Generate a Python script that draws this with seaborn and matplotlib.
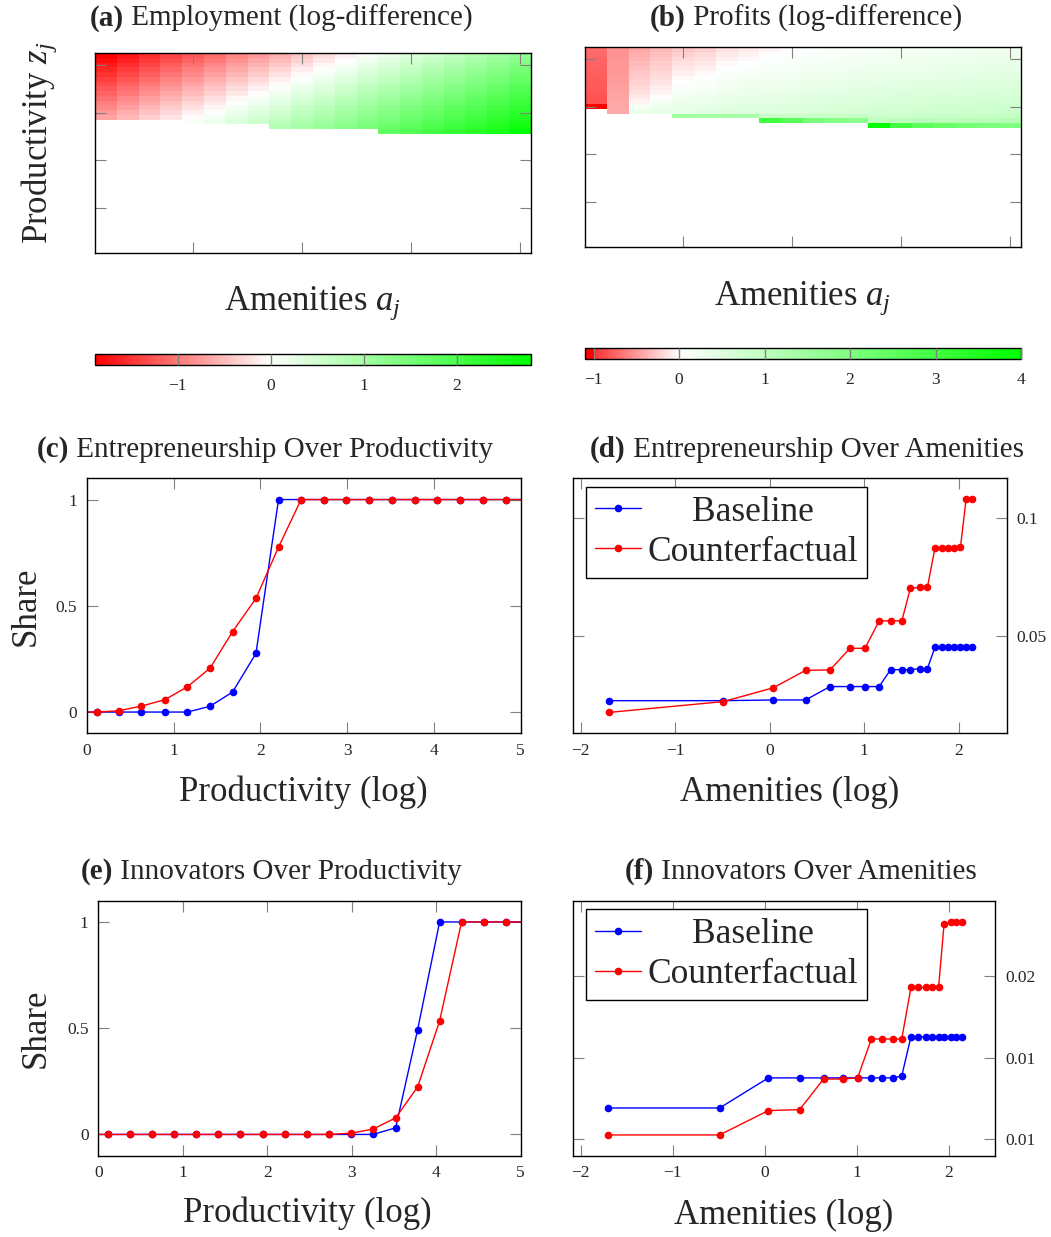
import numpy as np
import pandas as pd
import matplotlib
matplotlib.use("Agg")
import matplotlib.pyplot as plt
import seaborn as sns
from matplotlib.colors import LinearSegmentedColormap
from matplotlib.lines import Line2D

sns.set_theme(style="white")
plt.rcParams["font.family"] = ["Liberation Serif", "DejaVu Serif"]
plt.rcParams["mathtext.fontset"] = "custom"
plt.rcParams["mathtext.rm"] = "Liberation Serif"
plt.rcParams["mathtext.it"] = "Liberation Serif:italic"
plt.rcParams["axes.unicode_minus"] = True

# ---------------------------------------------------------------- data
n_prod_levels = 42  # productivity levels (rows); amenity levels are the columns

# log-difference in employment, one list per amenity level, top productivity first
employment_cols = [
    [-1.89, -1.80, -1.70, -1.61, -1.52, -1.42, -1.33, -1.24, -1.15, -1.05, -0.96, -0.87, -0.77, -0.68],
    [-1.73, -1.64, -1.54, -1.45, -1.36, -1.26, -1.17, -1.08, -0.99, -0.89, -0.80, -0.71, -0.61, -0.52],
    [-1.56, -1.47, -1.37, -1.28, -1.19, -1.09, -1.00, -0.91, -0.82, -0.72, -0.63, -0.54, -0.44, -0.35],
    [-1.40, -1.31, -1.21, -1.12, -1.03, -0.93, -0.84, -0.75, -0.66, -0.56, -0.47, -0.38, -0.28, -0.19],
    [-1.24, -1.15, -1.05, -0.96, -0.87, -0.77, -0.68, -0.59, -0.50, -0.40, -0.31, -0.22, -0.12, -0.03, 0.06],
    [-1.08, -0.99, -0.89, -0.80, -0.71, -0.61, -0.52, -0.43, -0.34, -0.24, -0.15, -0.06, 0.04, 0.13, 0.22],
    [-0.91, -0.82, -0.72, -0.63, -0.54, -0.44, -0.35, -0.26, -0.17, -0.07, 0.02, 0.11, 0.21, 0.30, 0.39],
    [-0.75, -0.66, -0.56, -0.47, -0.38, -0.28, -0.19, -0.10, -0.01, 0.09, 0.18, 0.27, 0.37, 0.46, 0.55],
    [-0.59, -0.50, -0.40, -0.31, -0.22, -0.12, -0.03, 0.06, 0.15, 0.25, 0.34, 0.43, 0.53, 0.62, 0.71, 0.81],
    [-0.42, -0.33, -0.23, -0.14, -0.05, 0.05, 0.14, 0.23, 0.32, 0.42, 0.51, 0.60, 0.70, 0.79, 0.88, 0.98],
    [-0.26, -0.17, -0.07, 0.02, 0.11, 0.21, 0.30, 0.39, 0.48, 0.58, 0.67, 0.76, 0.86, 0.95, 1.04, 1.14],
    [-0.10, -0.01, 0.09, 0.18, 0.27, 0.37, 0.46, 0.55, 0.64, 0.74, 0.83, 0.92, 1.02, 1.11, 1.20, 1.30],
    [0.07, 0.16, 0.26, 0.35, 0.44, 0.54, 0.63, 0.72, 0.81, 0.91, 1.00, 1.09, 1.19, 1.28, 1.37, 1.47],
    [0.23, 0.32, 0.42, 0.51, 0.60, 0.70, 0.79, 0.88, 0.97, 1.07, 1.16, 1.25, 1.35, 1.44, 1.53, 1.63, 1.72],
    [0.39, 0.48, 0.58, 0.67, 0.76, 0.86, 0.95, 1.04, 1.13, 1.23, 1.32, 1.41, 1.51, 1.60, 1.69, 1.79, 1.88],
    [0.56, 0.65, 0.75, 0.84, 0.93, 1.03, 1.12, 1.21, 1.30, 1.40, 1.49, 1.58, 1.68, 1.77, 1.86, 1.96, 2.05],
    [0.72, 0.81, 0.91, 1.00, 1.09, 1.19, 1.28, 1.37, 1.46, 1.56, 1.65, 1.74, 1.84, 1.93, 2.02, 2.12, 2.21],
    [0.88, 0.97, 1.07, 1.16, 1.25, 1.35, 1.44, 1.53, 1.62, 1.72, 1.81, 1.90, 2.00, 2.09, 2.18, 2.28, 2.37],
    [1.04, 1.13, 1.23, 1.32, 1.41, 1.51, 1.60, 1.69, 1.78, 1.88, 1.97, 2.06, 2.16, 2.25, 2.34, 2.44, 2.53],
    [1.21, 1.30, 1.40, 1.49, 1.58, 1.68, 1.77, 1.86, 1.95, 2.05, 2.14, 2.23, 2.33, 2.42, 2.51, 2.61, 2.80],
]

# log-difference in profits, same layout
profit_cols = [
    [-0.72, -0.73, -0.74, -0.75, -0.76, -0.77, -0.78, -0.79, -0.80, -0.82, -0.83, -0.85, -1.10],
    [-0.53, -0.52, -0.51, -0.50, -0.50, -0.49, -0.48, -0.47, -0.46, -0.45, -0.44, -0.43, -0.42, -0.41],
    [-0.42, -0.39, -0.36, -0.33, -0.30, -0.27, -0.25, -0.22, -0.19, -0.15, -0.11, -0.05, 0.15, 0.35],
    [-0.34, -0.31, -0.28, -0.25, -0.22, -0.19, -0.16, -0.13, -0.09, -0.05, 0.02, 0.15, 0.28, 0.40],
    [-0.27, -0.23, -0.19, -0.15, -0.11, -0.07, -0.03, 0.02, 0.08, 0.14, 0.20, 0.26, 0.33, 0.40, 1.50],
    [-0.23, -0.19, -0.15, -0.11, -0.07, -0.03, 0.02, 0.07, 0.13, 0.19, 0.25, 0.31, 0.37, 0.44, 1.45],
    [-0.15, -0.11, -0.07, -0.03, 0.01, 0.06, 0.11, 0.16, 0.21, 0.26, 0.31, 0.36, 0.42, 0.48, 1.40],
    [-0.10, -0.06, -0.02, 0.02, 0.07, 0.12, 0.17, 0.22, 0.27, 0.32, 0.37, 0.42, 0.48, 0.54, 1.35],
    [-0.05, -0.01, 0.03, 0.07, 0.11, 0.15, 0.19, 0.23, 0.28, 0.33, 0.38, 0.43, 0.48, 0.54, 0.85, 3.00],
    [-0.01, 0.03, 0.07, 0.11, 0.15, 0.19, 0.23, 0.27, 0.32, 0.37, 0.42, 0.47, 0.52, 0.58, 0.85, 2.60],
    [0.03, 0.07, 0.11, 0.15, 0.19, 0.23, 0.27, 0.31, 0.36, 0.41, 0.46, 0.51, 0.56, 0.62, 0.85, 2.10],
    [0.06, 0.10, 0.14, 0.18, 0.22, 0.26, 0.30, 0.34, 0.39, 0.44, 0.49, 0.54, 0.59, 0.65, 0.88, 1.90],
    [0.09, 0.13, 0.17, 0.21, 0.25, 0.29, 0.33, 0.37, 0.42, 0.47, 0.52, 0.57, 0.62, 0.68, 0.90, 1.80],
    [0.12, 0.16, 0.20, 0.24, 0.28, 0.32, 0.36, 0.40, 0.45, 0.50, 0.55, 0.60, 0.65, 0.71, 0.80, 1.00, 4.00],
    [0.14, 0.18, 0.22, 0.26, 0.30, 0.34, 0.38, 0.42, 0.47, 0.52, 0.57, 0.62, 0.67, 0.73, 0.82, 1.02, 3.00],
    [0.16, 0.20, 0.24, 0.28, 0.32, 0.36, 0.40, 0.44, 0.49, 0.54, 0.59, 0.64, 0.69, 0.75, 0.84, 1.05, 2.60],
    [0.18, 0.22, 0.26, 0.30, 0.34, 0.38, 0.42, 0.46, 0.51, 0.56, 0.61, 0.66, 0.71, 0.77, 0.86, 1.08, 2.40],
    [0.20, 0.24, 0.28, 0.32, 0.36, 0.40, 0.44, 0.48, 0.53, 0.58, 0.63, 0.68, 0.73, 0.79, 0.88, 1.10, 2.20],
    [0.22, 0.26, 0.30, 0.34, 0.38, 0.42, 0.46, 0.50, 0.55, 0.60, 0.65, 0.70, 0.75, 0.81, 0.90, 1.12, 2.10],
    [0.24, 0.28, 0.32, 0.36, 0.40, 0.44, 0.48, 0.52, 0.57, 0.62, 0.67, 0.72, 0.77, 0.83, 0.92, 1.15, 2.00],
]

employment_range = (-1.89, 2.80)
profit_range = (-1.10, 4.00)
employment_cticks = [-1, 0, 1, 2]
profit_cticks = [-1, 0, 1, 2, 3, 4]

# shares over the log-productivity grid
prod_grid = [-0.15, 0.12, 0.37, 0.63, 0.90, 1.16, 1.42, 1.68, 1.95, 2.21, 2.47,
             2.73, 2.99, 3.25, 3.52, 3.78, 4.04, 4.30, 4.56, 4.83, 5.09]
entre_prod_base = [0, 0, 0, 0, 0, 0, 0.027, 0.094, 0.276, 1, 1,
                   1, 1, 1, 1, 1, 1, 1, 1, 1, 1]
entre_prod_cf = [0, 0, 0.006, 0.028, 0.058, 0.119, 0.206, 0.378, 0.535, 0.776, 1,
                 1, 1, 1, 1, 1, 1, 1, 1, 1, 1]
innov_prod_base = [0, 0, 0, 0, 0, 0, 0, 0, 0, 0, 0,
                   0, 0, 0, 0.031, 0.493, 1, 1, 1, 1, 1]
innov_prod_cf = [0, 0, 0, 0, 0, 0, 0, 0, 0, 0, 0,
                 0, 0.006, 0.025, 0.078, 0.224, 0.534, 1, 1, 1, 1]

# shares over the log-amenity grid
amen_grid = [-1.70, -0.49, 0.04, 0.38, 0.64, 0.85, 1.01, 1.16, 1.28, 1.40,
             1.49, 1.59, 1.67, 1.75, 1.82, 1.89, 1.95, 2.02, 2.08, 2.14]
entre_amen_base = [0.0223, 0.0223, 0.0226, 0.0226, 0.0283, 0.0283, 0.0283, 0.0283, 0.0355, 0.0355,
                   0.0355, 0.0359, 0.0359, 0.0450, 0.0450, 0.0450, 0.0450, 0.0450, 0.0450, 0.0450]
entre_amen_cf = [0.0173, 0.0219, 0.0278, 0.0352, 0.0354, 0.0446, 0.0446, 0.0563, 0.0563, 0.0563,
                 0.0702, 0.0705, 0.0705, 0.0872, 0.0872, 0.0872, 0.0875, 0.0876, 0.1080, 0.1080]
innov_amen_base = [0.00692, 0.00692, 0.00876, 0.00876, 0.00876, 0.00876, 0.00876, 0.00876, 0.00876, 0.00876,
                   0.00888, 0.01127, 0.01127, 0.01127, 0.01127, 0.01127, 0.01127, 0.01127, 0.01127, 0.01127]
innov_amen_cf = [0.00527, 0.00527, 0.00676, 0.00682, 0.00869, 0.00869, 0.00876, 0.01114, 0.01114, 0.01114,
                 0.01114, 0.01429, 0.01429, 0.01429, 0.01429, 0.01429, 0.01816, 0.01829, 0.01829, 0.01829]

scenarios = ["Baseline", "Counterfactual"]
palette = {"Baseline": "#0000ff", "Counterfactual": "#ff0000"}

# ---------------------------------------------------------------- figure
W, H = 1051, 1237
fig = plt.figure(figsize=(W / 100, H / 100), dpi=100)


def px_axes(left, top, right, bottom):
    return fig.add_axes([left / W, 1 - bottom / H, (right - left) / W, (bottom - top) / H])


TICK_GREY = "#808080"
TICK_LEN = 8
TITLE_SIZE = 21
LABEL_SIZE = 25
LEGEND_SIZE = 25.5
TICKLABEL_SIZE = 12.5


def frame(ax):
    for s in ax.spines.values():
        s.set_visible(True)
        s.set_color("black")
        s.set_linewidth(1.0)
        s.set_zorder(5)


def panel_title(ax, x_px, y_px, tag, text):
    t = fig.text(x_px / W, 1 - y_px / H, tag, fontsize=TITLE_SIZE, fontweight="bold",
                 ha="left", va="baseline")
    ax.annotate(" " + text, xy=(1, 0), xycoords=t, fontsize=TITLE_SIZE,
                ha="left", va="bottom", annotation_clip=False)


emp_cmap = LinearSegmentedColormap.from_list(
    "emp", [(0.0, "#ff0000"), (1.89 / 4.69, "#ffffff"), (1.0, "#00ff00")], N=1024)
prof_cmap = LinearSegmentedColormap.from_list(
    "prof", [(0.0, "#ff0000"), (0.0195, "#ff0000"), (0.0197, "#ff3030"),
             (1.1 / 5.1, "#ffffff"), (1.0, "#00ff00")], N=2048)


def draw_heatmap(ax, cax, cols, vrange, cmap, cticks):
    mat = np.full((n_prod_levels, len(cols)), np.nan)
    for j, col in enumerate(cols):
        mat[:len(col), j] = col
    sns.heatmap(mat, ax=ax, cmap=cmap, vmin=vrange[0], vmax=vrange[1],
                cbar=True, cbar_ax=cax,
                cbar_kws={"orientation": "horizontal", "ticks": cticks},
                xticklabels=False, yticklabels=False, linewidths=0)
    ax.collections[0].set_zorder(0.5)
    ax.set_axisbelow(False)
    ax.set_xticks([4.5, 9.5, 14.5, 19.5])
    ax.set_xticklabels([])
    ax.set_yticks([2.5, 12.5, 22.5, 32.5])
    ax.set_yticklabels([])
    ax.tick_params(direction="in", length=TICK_LEN, width=0.8, color=TICK_GREY,
                   top=True, right=True, bottom=True, left=True)
    frame(ax)
    cb = ax.collections[0].colorbar
    cb.outline.set_visible(True)
    cb.outline.set_linewidth(1.0)
    cb.outline.set_edgecolor("black")
    cb.solids.set_zorder(0.5)
    cax.set_axisbelow(False)
    cax.tick_params(direction="in", length=8.2, width=1.0, color=TICK_GREY,
                    labelsize=TICKLABEL_SIZE, pad=9, bottom=True)


def draw_lines(ax, x, base, cf, xlim, ylim, xticks, yticks, yticklabels, right_labels):
    df = pd.DataFrame({
        "x": list(x) * 2,
        "share": list(base) + list(cf),
        "scenario": [scenarios[0]] * len(x) + [scenarios[1]] * len(x),
    })
    sns.lineplot(data=df, x="x", y="share", hue="scenario", hue_order=scenarios,
                 palette=palette, marker="o", markersize=5.5, markeredgewidth=0,
                 linewidth=1.0, estimator=None, sort=False, legend=False, ax=ax)
    ax.set_xlim(*xlim)
    ax.set_ylim(*ylim)
    ax.set_xticks(xticks)
    ax.set_yticks(yticks)
    ax.set_yticklabels(yticklabels)
    ax.tick_params(direction="in", length=TICK_LEN, width=0.8, color=TICK_GREY,
                   top=True, right=True, bottom=True, left=True,
                   labelsize=TICKLABEL_SIZE, pad=7,
                   labelleft=not right_labels, labelright=right_labels)
    frame(ax)
    ax.set_xlabel("")
    ax.set_ylabel("")


def add_legend(ax, x0, y1):
    handles = [Line2D([], [], color=palette[s], marker="o", markersize=5.5,
                      markeredgewidth=0, linewidth=1.0) for s in scenarios]
    leg = ax.legend(handles, scenarios, loc="upper left", bbox_to_anchor=(x0, y1),
                    borderaxespad=0, fontsize=LEGEND_SIZE, frameon=True, fancybox=False,
                    edgecolor="black", framealpha=1, handlelength=1.3,
                    handletextpad=0.2, labelspacing=0.2, borderpad=0.25)
    leg.get_frame().set_linewidth(1.0)
    return leg


def set_label(axis, text, x, y, rotation=0, size=LABEL_SIZE):
    lab = axis.set_label_text(text, fontsize=size)
    axis.set_label_coords(x, y)
    lab.set_va("center")
    lab.set_ha("center")
    lab.set_rotation(rotation)


# (a) employment heatmap
ax_a = px_axes(95, 53, 531, 253)
cax_a = px_axes(95, 354, 531, 365)
draw_heatmap(ax_a, cax_a, employment_cols, employment_range, emp_cmap, employment_cticks)
set_label(ax_a.xaxis, "Amenities $a_j$", 0.498, -0.25)
set_label(ax_a.yaxis, "Productivity $z_j$", -0.128, 0.55, rotation=90)
panel_title(ax_a, 90, 26, "(a)", "Employment (log-difference)")

# (b) profits heatmap
ax_b = px_axes(585, 47, 1021, 247)
cax_b = px_axes(585, 348, 1021, 359)
draw_heatmap(ax_b, cax_b, profit_cols, profit_range, prof_cmap, profit_cticks)
set_label(ax_b.xaxis, "Amenities $a_j$", 0.5, -0.255)
panel_title(ax_b, 650, 26, "(b)", "Profits (log-difference)")

# (c) entrepreneurship over productivity
ax_c = px_axes(86.7, 478.3, 520.7, 733.3)
draw_lines(ax_c, prod_grid, entre_prod_base, entre_prod_cf, (0, 5), (-0.1, 1.1),
           [0, 1, 2, 3, 4, 5], [0, 0.5, 1], ["0", "0.5", "1"], False)
set_label(ax_c.xaxis, "Productivity (log)", 0.498, -0.231)
set_label(ax_c.yaxis, "Share", -0.14, 0.50, rotation=90)
panel_title(ax_c, 37, 457, "(c)", "Entrepreneurship Over Productivity")

# (d) entrepreneurship over amenities
ax_d = px_axes(572.7, 478.3, 1006.7, 733.3)
draw_lines(ax_d, amen_grid, entre_amen_base, entre_amen_cf, (-2.085, 2.51), (0.0084, 0.117),
           [-2, -1, 0, 1, 2], [0.05, 0.1], ["0.05", "0.1"], True)
set_label(ax_d.xaxis, "Amenities (log)", 0.50, -0.234)
leg_d = add_legend(ax_d, 0.0306, 0.967)
panel_title(ax_d, 590, 457, "(d)", "Entrepreneurship Over Amenities")

# (e) innovators over productivity
ax_e = px_axes(98.3, 900.7, 520.7, 1155.7)
draw_lines(ax_e, prod_grid, innov_prod_base, innov_prod_cf, (0, 5), (-0.1, 1.1),
           [0, 1, 2, 3, 4, 5], [0, 0.5, 1], ["0", "0.5", "1"], False)
set_label(ax_e.xaxis, "Productivity (log)", 0.496, -0.225)
set_label(ax_e.yaxis, "Share", -0.147, 0.50, rotation=90)
panel_title(ax_e, 81, 879, "(e)", "Innovators Over Productivity")

# (f) innovators over amenities
ax_f = px_axes(572.7, 900.7, 995.3, 1155.7)
draw_lines(ax_f, amen_grid, innov_amen_base, innov_amen_cf, (-2.087, 2.507), (0.004, 0.0196),
           [-2, -1, 0, 1, 2], [0.005, 0.01, 0.015], ["0.01", "0.01", "0.02"], True)
set_label(ax_f.xaxis, "Amenities (log)", 0.498, -0.233)
leg_f = add_legend(ax_f, 0.0315, 0.967)
panel_title(ax_f, 625, 879, "(f)", "Innovators Over Amenities")

# centre the legend entries within their text column
fig.canvas.draw()
renderer = fig.canvas.get_renderer()
for leg in (leg_d, leg_f):
    texts = leg.get_texts()
    widths = [t.get_window_extent(renderer).width for t in texts]
    wmax = max(widths)
    for t, w in zip(texts, widths):
        t.set_position(((wmax - w) / 2, 0))

fig.savefig("out.png", dpi=100)
